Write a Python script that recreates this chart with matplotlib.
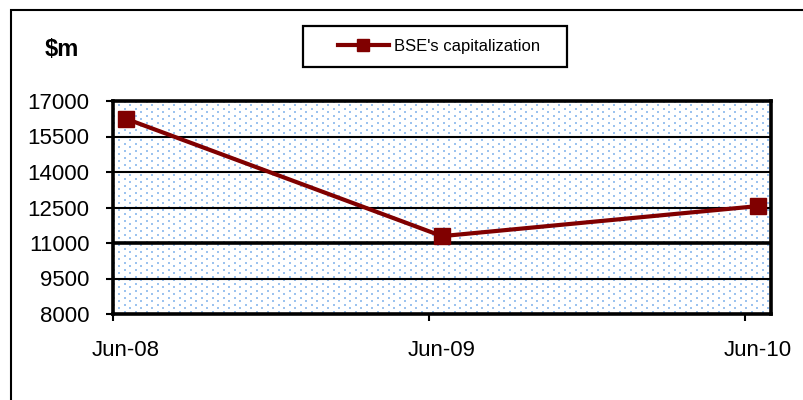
import numpy as np
import matplotlib
matplotlib.use("Agg")
import matplotlib.pyplot as plt
from matplotlib.patches import Rectangle
from matplotlib.lines import Line2D

categories = ["Jun-08", "Jun-09", "Jun-10"]
capitalization = [16250, 11290, 12560]
series_name = "BSE's capitalization"
y_ticks = [8000, 9500, 11000, 12500, 14000, 15500, 17000]
y_unit = "$m"

FONT = ["Liberation Sans", "DejaVu Sans"]
plt.rcParams["font.family"] = FONT

W, H = 804, 400
fig = plt.figure(figsize=(W / 100, H / 100), dpi=100)
fig.patch.set_facecolor("white")

ax_l, ax_r, ax_t, ax_b = 113, 771, 101, 314
ax = fig.add_axes([ax_l / W, 1 - ax_b / H, (ax_r - ax_l) / W, (ax_b - ax_t) / H])

x = np.arange(len(categories))
xlim = (-0.041, len(categories) - 1 + 0.041)
ylim = (y_ticks[0], y_ticks[-1])

# dotted light-blue background pattern
pw, ph = ax_r - ax_l, ax_b - ax_t
pat = np.ones((ph, pw, 3))
dot = np.array([0x9c, 0xc3, 0xef]) / 255.0
rr, cc = np.mgrid[0:ph, 0:pw]
mask = ((rr % 7 < 2) & (cc % 11 < 2)) | (((rr % 7) >= 3) & ((rr % 7) < 5) & ((cc % 11) >= 5) & ((cc % 11) < 7))
pat[mask] = dot
ax.imshow(pat, extent=(xlim[0], xlim[1], ylim[0], ylim[1]), aspect="auto",
          interpolation="nearest", zorder=0)

# gridlines
for yv in y_ticks[1:-1]:
    ax.axhline(yv, color="black", lw=2.6 if yv == 11000 else 1.5, zorder=1)

ax.plot(x, capitalization, color="#800000", lw=3, marker="s", ms=11,
        mec="#800000", mew=1, zorder=5, label=series_name, clip_on=False)

ax.set_xlim(*xlim)
ax.set_ylim(*ylim)

ax.set_yticks(y_ticks)
ax.set_yticklabels([str(v) for v in y_ticks])
ax.tick_params(axis="y", direction="out", length=5, width=1.5, pad=12, labelsize=16)

ax.set_xticks(x)
ax.set_xticklabels(categories)
ax.tick_params(axis="x", which="major", length=0, pad=19, labelsize=16)
ax.set_xticks(x - 0.041, minor=True)
ax.tick_params(axis="x", which="minor", direction="out", length=5, width=1.5)

for s in ax.spines.values():
    s.set_linewidth(2.6)
    s.set_color("black")

# unit label
fig.text(62 / W, 1 - 49 / H, y_unit, fontsize=17, fontweight="bold",
         ha="center", va="center")

# legend box
fig.patches.append(Rectangle((303 / W, 1 - 67 / H), (567 - 303) / W, (67 - 26) / H,
                             transform=fig.transFigure, fill=False, ec="black", lw=1.6))
leg = fig.legend(handles=[Line2D([], [], color="#800000", lw=3, marker="s", ms=8,
                                 mec="#800000", mew=1)],
                 labels=[series_name], loc="center", bbox_to_anchor=(439 / W, 1 - 46 / H),
                 frameon=False, fontsize=12, handlelength=3.1, handletextpad=0.3,
                 borderpad=0, borderaxespad=0)

# outer chart border
fig.patches.append(Rectangle((11 / W, -0.2), 1.2, 1.2 - 10 / H,
                             transform=fig.transFigure, fill=False, ec="black", lw=1.5))

fig.savefig("out.png", dpi=100)
